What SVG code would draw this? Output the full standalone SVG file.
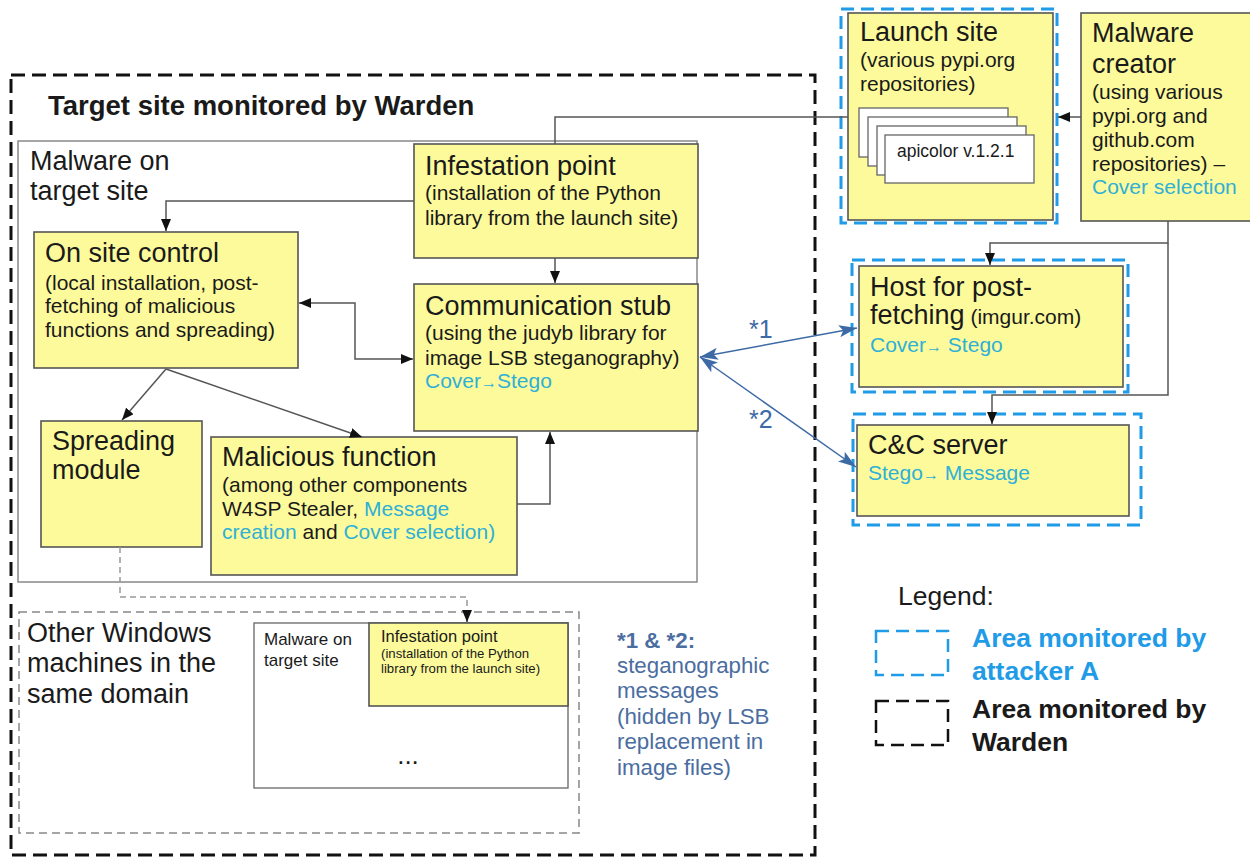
<svg xmlns="http://www.w3.org/2000/svg" width="1250" height="858" viewBox="0 0 1250 858">
<defs>
<style>
text { font-family: "Liberation Sans", Arial, sans-serif; fill: #1a1a1a; }
.t { font-size: 27px; }
.s { font-size: 21px; }
.c { fill: #2fb0d6; }
.ar { font-size: 16px; }
.box { fill: #fdfa9c; stroke: #555; stroke-width: 1.6; }
.wbox { fill: #ffffff; stroke: #666; stroke-width: 1.3; }
.bluedash { fill: none; stroke: #1f9be8; stroke-width: 3; stroke-dasharray: 13 7; }
.blackdash { fill: none; stroke: #111; stroke-width: 3; stroke-dasharray: 14 7; }
.conn { fill: none; stroke: #555; stroke-width: 1.5; }
.gconn { fill: none; stroke: #999; stroke-width: 1.5; stroke-dasharray: 6 4; }
.bconn { fill: none; stroke: #3d6aa5; stroke-width: 1.5; }
.note { fill: #4b6d9f; font-size: 22.3px; }
.lg { font-size: 26.5px; font-weight: bold; }
</style>
<marker id="ah" viewBox="0 0 12 10" refX="12" refY="5" markerWidth="12" markerHeight="10" markerUnits="userSpaceOnUse" orient="auto-start-reverse"><path d="M0,0 L12,5 L0,10 z" fill="#111"/></marker>
<marker id="bh" viewBox="0 0 18 12" refX="18" refY="6" markerWidth="18" markerHeight="12" markerUnits="userSpaceOnUse" orient="auto-start-reverse"><path d="M0,0 L18,6 L0,12 L4,6 z" fill="#3d6aa5"/></marker>
</defs>
<rect x="0" y="0" width="1250" height="858" fill="#ffffff"/>

<g id="warden-area">
<rect class="blackdash" x="11" y="75" width="804" height="780"/>
<text x="48" y="115" font-size="27.5" font-weight="bold">Target site monitored by Warden</text>
</g>

<g id="malware-on-target-site">
<rect x="18" y="141" width="679" height="441" fill="#ffffff" stroke="#888" stroke-width="1.5"/>
<text class="t" x="30" y="170">Malware on</text>
<text class="t" x="30" y="200">target site</text>
</g>

<g id="infestation-point">
<rect class="box" x="414" y="144" width="284" height="114"/>
<text class="t" x="425" y="175">Infestation point</text>
<text class="s" x="425" y="200">(installation of the Python</text>
<text class="s" x="425" y="225">library from the launch site)</text>
</g>

<g id="on-site-control">
<rect class="box" x="34" y="232" width="264" height="136"/>
<text class="t" x="45" y="262">On site control</text>
<text class="s" x="45" y="290">(local installation, post-</text>
<text class="s" x="45" y="313">fetching of malicious</text>
<text class="s" x="45" y="337">functions and spreading)</text>
</g>

<g id="communication-stub">
<rect class="box" x="414" y="284" width="284" height="147"/>
<text class="t" x="425" y="315">Communication stub</text>
<text class="s" x="425" y="340">(using the judyb library for</text>
<text class="s" x="425" y="365">image LSB steganography)</text>
<text class="s c" x="425" y="388">Cover<tspan class="ar c">→</tspan>Stego</text>
</g>

<g id="spreading-module">
<rect class="box" x="41" y="421" width="161" height="126"/>
<text class="t" x="52" y="450">Spreading</text>
<text class="t" x="52" y="479">module</text>
</g>

<g id="malicious-function">
<rect class="box" x="211" y="437" width="306" height="138"/>
<text class="t" x="222" y="466">Malicious function</text>
<text class="s" x="222" y="492">(among other components</text>
<text class="s" x="222" y="516">W4SP Stealer, <tspan class="c">Message</tspan></text>
<text class="s" x="222" y="539"><tspan class="c">creation</tspan> and <tspan class="c">Cover selection)</tspan></text>
</g>

<g id="other-windows-machines">
<rect x="19" y="612" width="560" height="221" fill="none" stroke="#888" stroke-width="1.5" stroke-dasharray="8 5"/>
<text class="t" x="27" y="642">Other Windows</text>
<text class="t" x="27" y="672">machines in the</text>
<text class="t" x="27" y="703">same domain</text>
<rect class="wbox" x="254" y="623" width="314" height="165"/>
<text x="264" y="645" font-size="17">Malware on</text>
<text x="264" y="666" font-size="17">target site</text>
<rect class="box" x="369" y="623" width="199" height="83" stroke-width="1.3"/>
<text x="381" y="642" font-size="16.5">Infestation point</text>
<text x="381" y="658" font-size="13.2">(installation of the Python</text>
<text x="381" y="673" font-size="13.2">library from the launch site)</text>
<text x="408" y="764" font-size="26" text-anchor="middle">...</text>
</g>

<g id="launch-site">
<rect class="box" x="848" y="13" width="205" height="207"/>
<rect class="bluedash" x="841" y="9" width="216" height="214"/>
<text class="t" x="860" y="41">Launch site</text>
<text class="s" x="860" y="67">(various pypi.org</text>
<text class="s" x="860" y="91">repositories)</text>
<rect class="wbox" x="859" y="108" width="149" height="49"/>
<rect class="wbox" x="868" y="117" width="149" height="49"/>
<rect class="wbox" x="877" y="126" width="149" height="49"/>
<rect class="wbox" x="885" y="135" width="149" height="48"/>
<text x="897" y="157" font-size="17.5">apicolor v.1.2.1</text>
</g>

<g id="malware-creator">
<rect class="box" x="1081" y="13" width="185" height="208"/>
<text class="t" x="1092" y="42">Malware</text>
<text class="t" x="1092" y="73">creator</text>
<text class="s" x="1092" y="99">(using various</text>
<text class="s" x="1092" y="123">pypi.org and</text>
<text class="s" x="1092" y="147">github.com</text>
<text class="s" x="1092" y="171">repositories) –</text>
<text class="s c" x="1092" y="194">Cover selection</text>
</g>

<g id="host-post-fetching">
<rect class="box" x="859" y="266" width="264" height="121"/>
<rect class="bluedash" x="852" y="260" width="276" height="132"/>
<text class="t" x="870" y="296">Host for post-</text>
<text class="t" x="870" y="324">fetching<tspan class="s"> (imgur.com)</tspan></text>
<text class="s c" x="870" y="352">Cover<tspan class="ar c">→</tspan> Stego</text>
</g>

<g id="cc-server">
<rect class="box" x="857" y="425" width="272" height="91"/>
<rect class="bluedash" x="853" y="414" width="288" height="111"/>
<text class="t" x="868" y="454">C&amp;C server</text>
<text class="s c" x="868" y="480">Stego<tspan class="ar c">→</tspan> Message</text>
</g>

<g id="steganography-note">
<text class="note" x="617" y="648" font-weight="bold">*1 &amp; *2:</text>
<text class="note" x="617" y="673">steganographic</text>
<text class="note" x="617" y="698">messages</text>
<text class="note" x="617" y="724">(hidden by LSB</text>
<text class="note" x="617" y="749">replacement in</text>
<text class="note" x="617" y="775">image files)</text>
</g>

<g id="legend">
<text x="898" y="605" font-size="26.5">Legend:</text>
<rect x="876" y="631" width="72" height="44" fill="none" stroke="#1f9be8" stroke-width="2.5" stroke-dasharray="13 7"/>
<text class="lg" x="972" y="647" style="fill:#1f9be8">Area monitored by</text>
<text class="lg" x="972" y="680" style="fill:#1f9be8">attacker A</text>
<rect x="876" y="701" width="72" height="44" fill="none" stroke="#111" stroke-width="2.5" stroke-dasharray="13 7"/>
<text class="lg" x="972" y="718">Area monitored by</text>
<text class="lg" x="972" y="751">Warden</text>
</g>

<g id="connectors">
<path class="conn" d="M555,144 V117 H848"/>
<path class="conn" d="M414,201 H166 V231" marker-end="url(#ah)"/>
<path class="conn" d="M555,258 V283" marker-end="url(#ah)"/>
<path class="conn" d="M299,303 H355 V359 H413" marker-start="url(#ah)" marker-end="url(#ah)"/>
<path class="conn" d="M166,369 L122,420" marker-end="url(#ah)"/>
<path class="conn" d="M166,369 L362,437" marker-end="url(#ah)"/>
<path class="conn" d="M517,504 H550 V432" marker-end="url(#ah)"/>
<path class="gconn" d="M120,547 V597 H467 V611"/>
<path class="conn" d="M467,611 V622" marker-end="url(#ah)"/>
<path class="conn" d="M1081,117 H1058" marker-end="url(#ah)"/>
<path class="conn" d="M1168,221 V243 H990 V265" marker-end="url(#ah)"/>
<path class="conn" d="M1168,243 V395 H992 V424" marker-end="url(#ah)"/>
<path class="bconn" d="M700,357 L857,328" marker-start="url(#bh)" marker-end="url(#bh)"/>
<path class="bconn" d="M700,357 L856,467" marker-start="url(#bh)" marker-end="url(#bh)"/>
<text x="749" y="338" font-size="25" style="fill:#3d6aa5">*1</text>
<text x="749" y="428" font-size="25" style="fill:#3d6aa5">*2</text>
</g>
</svg>
